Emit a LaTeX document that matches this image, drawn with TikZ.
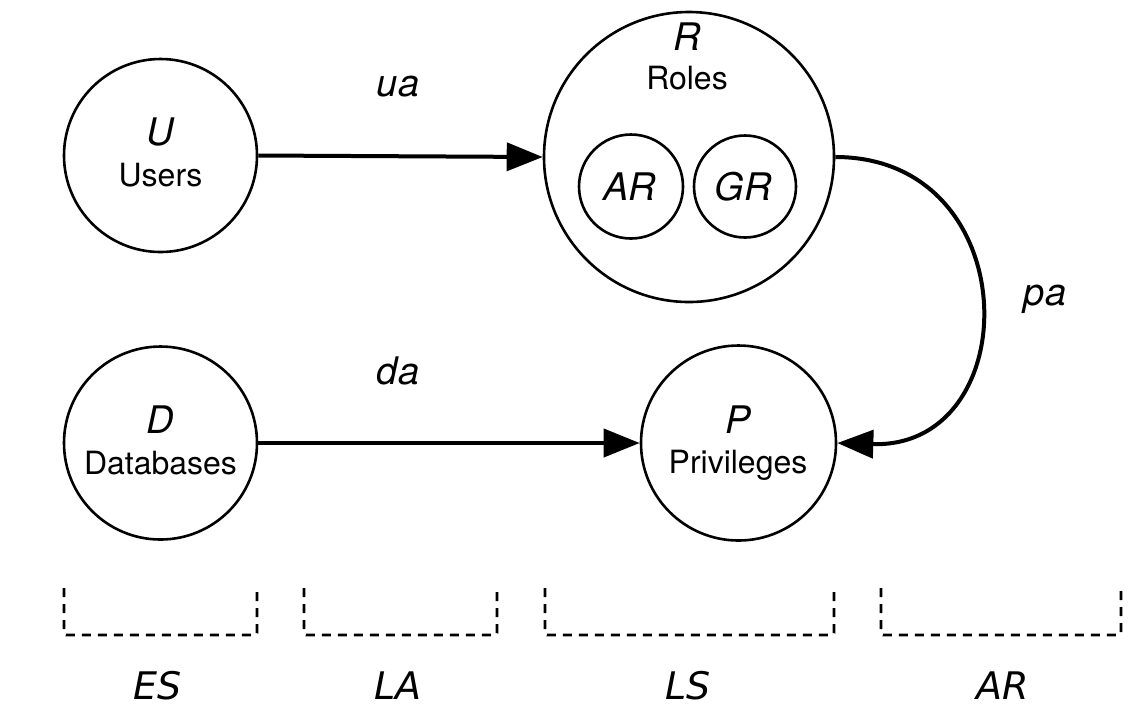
\documentclass[tikz,border=0pt]{standalone}
\usepackage{fontspec}
\setmainfont{TeX Gyre Heros}
\newfontfamily\dejavu{DejaVu Sans}
\usetikzlibrary{arrows.meta}
\tikzset{
  setcirc/.style={draw, circle, line width=1.3pt, inner sep=0pt},
  ital/.style={font=\fontsize{19}{22}\selectfont\itshape, anchor=base, inner sep=0pt},
  word/.style={font=\fontsize{16}{19}\selectfont, anchor=base, inner sep=0pt},
  rel/.style={line width=2pt, -{Triangle[length=18pt,width=14pt]}},
  bracket/.style={line width=1.4pt, dash pattern=on 4.5pt off 3.5pt, rounded corners=1pt},
  layer/.style={font=\dejavu\fontsize{19}{22}\selectfont\itshape, anchor=base, inner sep=0pt}
}
\begin{document}
\begin{tikzpicture}[x=0.5pt, y=-0.5pt]
\useasboundingbox (0,0) rectangle (1139,725);
% circles
\node[setcirc, minimum size=96.5pt] (U) at (160.5,155.5) {};
\node[setcirc, minimum size=96.5pt] (D) at (160.5,443) {};
\node[setcirc, minimum size=145pt] (R) at (689,157) {};
\node[setcirc, minimum size=52pt] (AR) at (631,186.5) {};
\node[setcirc, minimum size=51pt] (GR) at (745,186.5) {};
\node[setcirc, minimum size=97.5pt] (P) at (738.5,443) {};
% texts
\node[ital] (Ul) at (160.5,145) {U};
\node[word] (Uw) at (160.5,186) {Users};
\node[ital] (Dl) at (160.5,433) {D};
\node[word] (Dw) at (160.5,474) {Databases};
\node[ital] (Rl) at (687,50) {R};
\node[word] (Rw) at (687,89) {Roles};
\node[ital] (ARl) at (630,200) {AR};
\node[ital] (GRl) at (743,200) {GR};
\node[ital] (Pl) at (738,433) {P};
\node[word] (Pw) at (738,473) {Privileges};
% relations
\draw[rel] (U.east) -- (R.west);
\draw[rel] (D.east) -- (P.west);
\draw[rel] (R.east) .. controls +(192,0) and +(190,6) .. (P.east);
\node[ital] (ua) at (398,96) {ua};
\node[ital] (da) at (398,384) {da};
\node[ital] (pa) at (1045,305) {pa};
% layers
\draw[bracket] (64,588) -- (64,635) -- (257,635) -- (257,588);
\draw[bracket] (304,588) -- (304,635) -- (497,635) -- (497,588);
\draw[bracket] (545,588) -- (545,635) -- (834,635) -- (834,588);
\draw[bracket] (881,588) -- (881,635) -- (1121,635) -- (1121,588);
\node[layer] (ES) at (158,699) {ES};
\node[layer] (LA) at (398,699) {LA};
\node[layer] (LS) at (688,699) {LS};
\node[layer] (ARl2) at (1003,699) {AR};
\end{tikzpicture}
\end{document}
